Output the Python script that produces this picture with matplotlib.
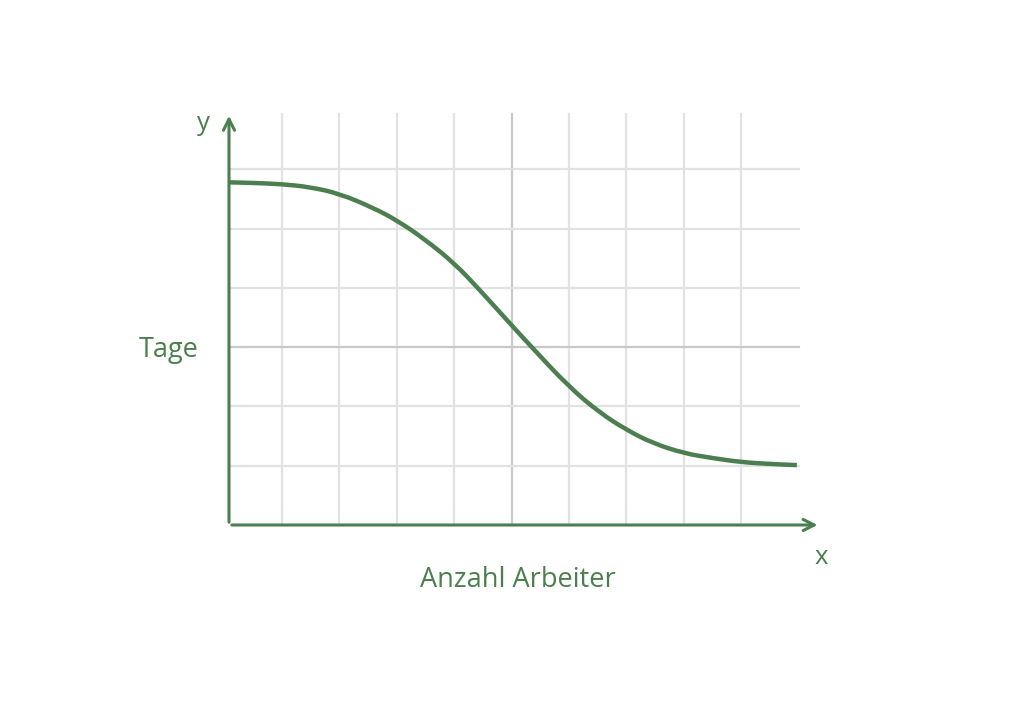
import numpy as np
import matplotlib.pyplot as plt
from matplotlib.path import Path
from matplotlib.patches import PathPatch

# values (grid units)
arbeiter = [0.08, 0.50, 1.00, 1.49, 2.00, 2.59, 3.00, 3.46, 4.00, 4.45, 5.00,
            5.37, 6.00, 6.54, 7.01, 7.46, 8.00, 8.49, 9.00, 9.49, 9.97]
tage = [5.78, 5.77, 5.75, 5.70, 5.59, 5.35, 5.14, 4.84, 4.42, 3.96, 3.37,
        2.98, 2.33, 1.89, 1.60, 1.38, 1.21, 1.13, 1.06, 1.03, 1.01]
x_grid = [1, 2, 3, 4, 5, 6, 7, 8, 9]
y_grid = [1, 2, 3, 4, 5, 6]

green = '#4b7f4f'
light = '#e2e2e2'
mid = '#c9c9c9'
font = ['Open Sans', 'DejaVu Sans']


def smooth_path(xs, ys):
    # quadratic b-spline through the midpoints, points act as control points
    pts = np.column_stack([xs, ys])
    verts = [pts[0], (pts[0] + pts[1]) / 2]
    codes = [Path.MOVETO, Path.LINETO]
    for i in range(1, len(pts) - 1):
        verts += [pts[i], (pts[i] + pts[i + 1]) / 2]
        codes += [Path.CURVE3, Path.CURVE3]
    verts.append(pts[-1])
    codes.append(Path.LINETO)
    return Path(verts, codes)


fig = plt.figure(figsize=(10.24, 7.07), dpi=100)
ax = fig.add_axes([229 / 1024, (707 - 525) / 707, (825 - 229) / 1024, (525 - 110) / 707])
ax.set_xlim(0.078, 10.46)
ax.set_ylim(0, 7.0)
ax.axis('off')

x0 = 0.078
for gx in x_grid:
    ax.plot([gx, gx], [0, 6.93], color=mid if gx == 5 else light, lw=1.6, zorder=1)
for gy in y_grid:
    ax.plot([x0, 10.0], [gy, gy], color=mid if gy == 3 else light, lw=1.6, zorder=1)

curve = PathPatch(smooth_path(arbeiter, tage), facecolor='none', edgecolor=green,
                  lw=3.2, capstyle='butt', zorder=3)
ax.add_patch(curve)

# axes with arrows
ax.annotate('', xy=(10.38, 0), xytext=(x0, 0),
            arrowprops=dict(arrowstyle='->,head_length=0.8,head_width=0.4', color=green, lw=2.2),
            annotation_clip=False, zorder=4)
ax.annotate('', xy=(x0, 6.95), xytext=(x0, 0),
            arrowprops=dict(arrowstyle='->,head_length=0.8,head_width=0.4', color=green, lw=2.2),
            annotation_clip=False, zorder=4)

fig.text(203 / 1024, 1 - 123 / 707, 'y', color=green, fontsize=18.5, family=font, ha='center', va='center')
fig.text(821 / 1024, 1 - 557 / 707, 'x', color=green, fontsize=18.5, family=font, ha='center', va='center')
fig.text(168.5 / 1024, 1 - 350 / 707, 'Tage', color=green, fontsize=19.5, family=font, ha='center', va='center')
fig.text(518 / 1024, 1 - 580 / 707, 'Anzahl Arbeiter', color=green, fontsize=19.5, family=font,
         ha='center', va='center')

fig.savefig('out.png', dpi=100, facecolor='white')
